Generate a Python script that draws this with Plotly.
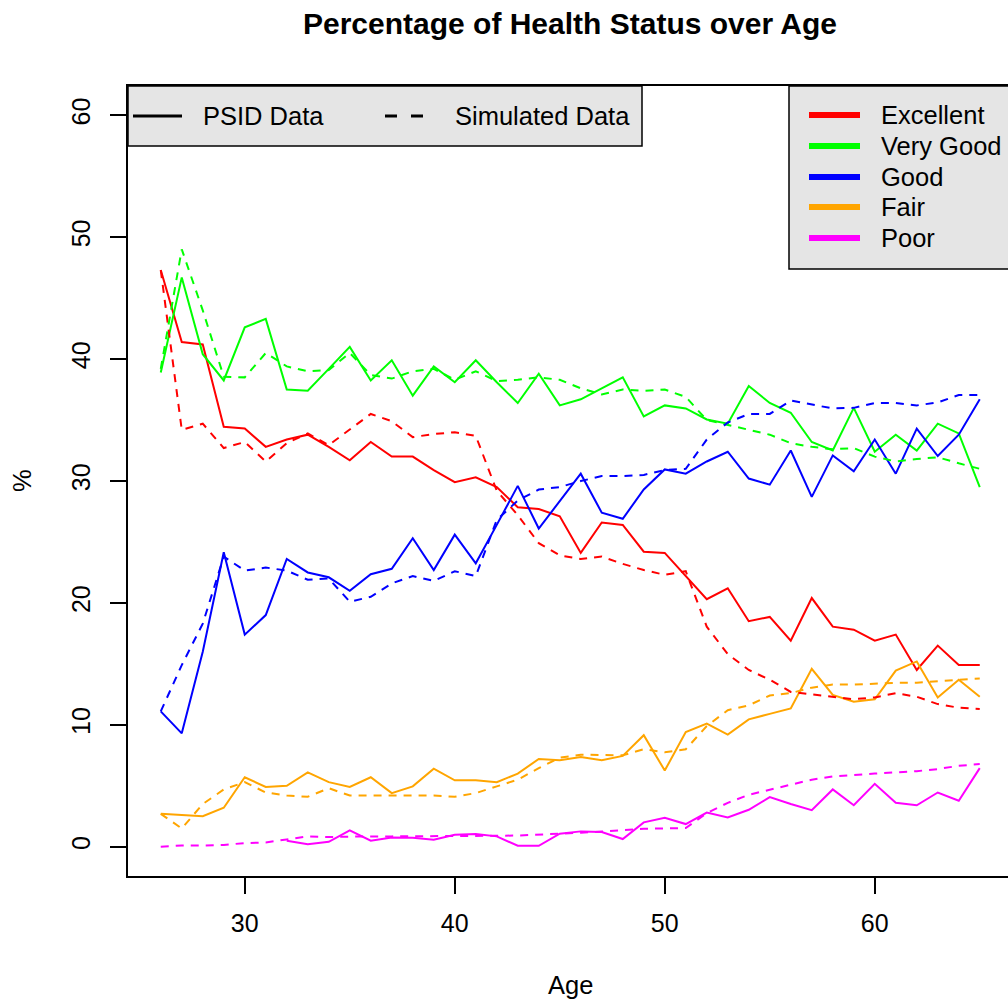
import plotly.graph_objects as go

# Ages covered by the panel
ages = list(range(26, 66))

# Share of respondents in each self-reported health state (%), PSID vs model simulation
excellent_psid = [47.3, 41.4, 41.2, 34.45, 34.3, 32.8, 33.4, 33.8, 32.8, 31.7,
                  33.2, 32.0, 32.0, 30.9, 29.9, 30.3, 29.5, 27.85, 27.7, 27.1,
                  24.1, 26.6, 26.4, 24.2, 24.1, 22.2, 20.3, 21.2, 18.5, 18.85,
                  16.9, 20.4, 18.05, 17.8, 16.9, 17.4, 14.5, 16.5, 14.9, 14.9]
excellent_sim = [47.3, 34.2, 34.7, 32.7, 33.2, 31.6, 33.1, 33.9, 32.95, 34.2,
                 35.5, 34.9, 33.6, 33.85, 34.0, 33.7, 29.2, 27.2, 24.9, 23.9,
                 23.6, 23.8, 23.2, 22.7, 22.3, 22.6, 18.05, 15.8, 14.5, 13.7,
                 12.7, 12.5, 12.3, 12.1, 12.25, 12.6, 12.3, 11.7, 11.4, 11.3]

verygood_psid = [38.9, 46.7, 40.4, 38.25, 42.6, 43.3, 37.5, 37.4, 39.2, 41.0,
                 38.25, 39.9, 37.0, 39.4, 38.1, 39.9, 38.1, 36.4, 38.8, 36.2,
                 36.7, 37.6, 38.5, 35.3, 36.2, 35.95, 35.05, 34.7, 37.8, 36.4,
                 35.6, 33.2, 32.5, 36.0, 32.4, 33.8, 32.5, 34.7, 33.9, 29.5]
verygood_sim = [39.2, 49.0, 44.0, 38.55, 38.5, 40.5, 39.4, 39.0, 39.1, 40.5,
                38.7, 38.4, 39.0, 39.2, 38.3, 39.0, 38.2, 38.3, 38.5, 38.3,
                37.6, 37.1, 37.5, 37.4, 37.5, 36.9, 35.0, 34.6, 34.2, 33.8,
                33.1, 32.8, 32.6, 32.7, 32.0, 31.6, 31.8, 31.95, 31.45, 31.0]

good_psid = [11.1, 9.3, 16.0, 24.15, 17.4, 19.0, 23.6, 22.5, 22.1, 21.0,
             22.35, 22.8, 25.3, 22.7, 25.6, 23.25, 26.4, 29.6, 26.1, 28.4,
             30.6, 27.4, 26.9, 29.3, 30.95, 30.6, 31.6, 32.4, 30.2, 29.7,
             32.5, 28.7, 32.1, 30.8, 33.4, 30.6, 34.3, 32.05, 33.8, 36.7]
good_sim = [11.1, 14.9, 18.3, 23.8, 22.65, 22.9, 22.65, 21.9, 22.0, 20.1,
            20.5, 21.6, 22.2, 21.8, 22.6, 22.2, 26.8, 28.4, 29.3, 29.5,
            30.0, 30.4, 30.4, 30.5, 30.9, 31.0, 33.4, 34.8, 35.5, 35.5,
            36.6, 36.3, 35.95, 36.0, 36.4, 36.4, 36.2, 36.45, 37.05, 37.05]

fair_psid = [2.7, 2.6, 2.5, 3.2, 5.7, 4.9, 5.0, 6.1, 5.3, 4.9,
             5.7, 4.4, 4.95, 6.4, 5.45, 5.45, 5.3, 6.0, 7.2, 7.1,
             7.35, 7.1, 7.45, 9.15, 6.25, 9.4, 10.1, 9.2, 10.45, 10.9,
             11.35, 14.6, 12.45, 11.9, 12.1, 14.45, 15.2, 12.25, 13.7, 12.3]
fair_sim = [2.7, 1.5, 3.5, 4.7, 5.3, 4.45, 4.2, 4.1, 4.8, 4.2,
            4.2, 4.2, 4.2, 4.2, 4.1, 4.4, 4.95, 5.5, 6.45, 7.3,
            7.55, 7.5, 7.5, 8.0, 7.75, 8.0, 9.9, 11.2, 11.6, 12.4,
            12.6, 13.05, 13.3, 13.3, 13.4, 13.45, 13.45, 13.6, 13.7, 13.8]

poor_psid = [None, None, None, None, None, None, 0.5, 0.2, 0.4, 1.35,
             0.5, 0.75, 0.74, 0.57, 0.98, 1.04, 0.85, 0.08, 0.08, 1.07,
             1.26, 1.2, 0.63, 2.0, 2.38, 1.86, 2.8, 2.4, 3.03, 4.07,
             3.5, 3.0, 4.7, 3.4, 5.16, 3.6, 3.4, 4.45, 3.77, 6.45]
poor_sim = [0.0, 0.1, 0.1, 0.15, 0.3, 0.35, 0.6, 0.85, 0.8, 0.85,
            0.85, 0.85, 0.85, 0.85, 0.9, 0.9, 0.9, 0.92, 0.98, 1.1,
            1.15, 1.25, 1.35, 1.47, 1.5, 1.53, 2.76, 3.6, 4.26, 4.67,
            5.1, 5.5, 5.76, 5.85, 6.0, 6.1, 6.2, 6.37, 6.64, 6.78]

status_names = ["Excellent", "Very Good", "Good", "Fair", "Poor"]
status_colors = ["#FF0000", "#00FF00", "#0000FF", "#FFA500", "#FF00FF"]
psid_series = [excellent_psid, verygood_psid, good_psid, fair_psid, poor_psid]
sim_series = [excellent_sim, verygood_sim, good_sim, fair_sim, poor_sim]

source_labels = ["PSID Data", "Simulated Data"]
x_ticks = [30, 40, 50, 60]
y_ticks = [0, 10, 20, 30, 40, 50, 60]

W, H = 1008, 1004
ML, MR, MT, MB = 128, 0, 86, 128
PX_PER_AGE = 21.0
X0 = 24.44
FONT = "Liberation Sans, Arial, Helvetica, sans-serif"
TXT = 25.5

fig = go.Figure()

for name, color, ys in zip(status_names, status_colors, psid_series):
    fig.add_trace(go.Scatter(x=ages, y=ys, mode="lines", name=name,
                             line=dict(color=color, width=2),
                             connectgaps=False, showlegend=False))
for name, color, ys in zip(status_names, status_colors, sim_series):
    fig.add_trace(go.Scatter(x=ages, y=ys, mode="lines", name=name + " (sim)",
                             line=dict(color=color, width=2, dash="8px,7px"),
                             showlegend=False))

plot_w = W - ML - MR
plot_h = H - MT - MB


def px_x(p):
    return (p - ML) / plot_w


def px_y(p):
    return (H - MB - p) / plot_h


shapes = []
annotations = []

# Line-type key (top left)
shapes.append(dict(type="rect", xref="paper", yref="paper",
                   x0=px_x(128), x1=px_x(642), y0=px_y(146), y1=px_y(86),
                   fillcolor="#E5E5E5", line=dict(color="black", width=1.5)))
shapes.append(dict(type="line", xref="paper", yref="paper",
                   x0=px_x(133), x1=px_x(182), y0=px_y(116), y1=px_y(116),
                   line=dict(color="black", width=3)))
shapes.append(dict(type="line", xref="paper", yref="paper",
                   x0=px_x(385), x1=px_x(423), y0=px_y(116), y1=px_y(116),
                   line=dict(color="black", width=3, dash="12px,14px")))
for txt, xl in zip(source_labels, [201, 453]):
    annotations.append(dict(text=txt, xref="paper", yref="paper",
                            x=px_x(xl), y=px_y(116), xanchor="left",
                            yanchor="middle", showarrow=False,
                            font=dict(family=FONT, size=TXT, color="black")))

# Colour key (top right)
shapes.append(dict(type="rect", xref="paper", yref="paper",
                   x0=px_x(789), x1=px_x(1030), y0=px_y(269), y1=px_y(86),
                   fillcolor="#E5E5E5", line=dict(color="black", width=1.5)))
row_y = [115, 146, 177, 207, 238]
for name, color, ry in zip(status_names, status_colors, row_y):
    shapes.append(dict(type="line", xref="paper", yref="paper",
                       x0=px_x(809), x1=px_x(860), y0=px_y(ry), y1=px_y(ry),
                       line=dict(color=color, width=6)))
    annotations.append(dict(text=name, xref="paper", yref="paper",
                            x=px_x(879), y=px_y(ry), xanchor="left",
                            yanchor="middle", showarrow=False,
                            font=dict(family=FONT, size=TXT, color="black")))

# Axis titles
annotations.append(dict(text="Age", xref="paper", yref="paper",
                        x=px_x(570), y=px_y(985), xanchor="center",
                        yanchor="middle", showarrow=False,
                        font=dict(family=FONT, size=TXT, color="black")))
annotations.append(dict(text="%", xref="paper", yref="paper",
                        x=px_x(22), y=px_y(481), xanchor="center",
                        yanchor="middle", showarrow=False, textangle=-90,
                        font=dict(family=FONT, size=TXT, color="black")))

fig.update_layout(
    width=W, height=H,
    margin=dict(l=ML, r=MR, t=MT, b=MB, pad=0),
    paper_bgcolor="white", plot_bgcolor="white",
    font=dict(family=FONT, size=TXT, color="black"),
    title=dict(text="<b>Percentage of Health Status over Age</b>",
               font=dict(family=FONT, size=30, color="black"),
               x=570 / W, xref="container", xanchor="center",
               y=1 - 23 / H, yref="container", yanchor="middle"),
    shapes=shapes, annotations=annotations,
    xaxis=dict(range=[X0, X0 + plot_w / PX_PER_AGE], tickmode="array",
               tickvals=x_ticks, ticks="outside", ticklen=16, tickwidth=2,
               tickcolor="black", showline=True, linecolor="black",
               linewidth=2, mirror=True, showgrid=False, zeroline=False,
               tickfont=dict(family=FONT, size=25, color="black"),
               ticklabelstandoff=8),
    yaxis=dict(range=[-2.4, 62.4], tickmode="array", tickvals=y_ticks,
               ticks="outside", ticklen=16, tickwidth=2, tickcolor="black",
               showline=True, linecolor="black", linewidth=2, mirror=False,
               showgrid=False, zeroline=False, tickangle=-90,
               tickfont=dict(family=FONT, size=25, color="black"),
               ticklabelstandoff=10),
)

fig.write_html("out.html")
